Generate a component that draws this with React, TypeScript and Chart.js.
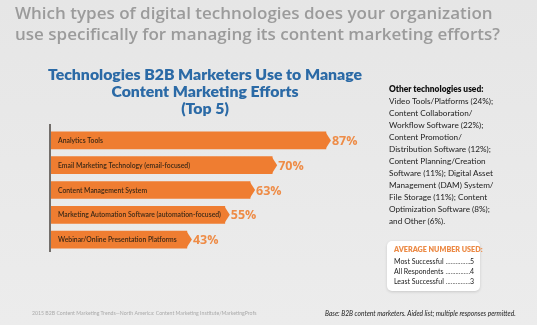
import React, { useEffect, useRef } from "react";
import { Chart, registerables } from "chart.js";

Chart.register(...registerables);

const categories = [
  "Analytics Tools",
  "Email Marketing Technology (email-focused)",
  "Content Management System",
  "Marketing Automation Software (automation-focused)",
  "Webinar/Online Presentation Platforms",
];
const values = [87, 70, 63, 55, 43];
const valueLabels = ["87%", "70%", "63%", "55%", "43%"];

const questionLines = [
  "Which types of digital technologies does your organization",
  "use specifically for managing its content marketing efforts?",
];
const titleLines = ["Technologies B2B Marketers Use to Manage", "Content Marketing Efforts", "(Top 5)"];
const otherHeader = "Other technologies used:";
const otherLines = [
  "Video Tools/Platforms (24%);",
  "Content Collaboration/",
  "Workflow Software (22%);",
  "Content Promotion/",
  "Distribution Software (12%);",
  "Content Planning/Creation",
  "Software (11%); Digital Asset",
  "Management (DAM) System/",
  "File Storage (11%); Content",
  "Optimization Software (8%);",
  "and Other (6%).",
];
const avgHeader = "AVERAGE NUMBER USED:";
const avgLabels = ["Most Successful", "All Respondents", "Least Successful"];
const avgValues = ["5", "4", "3"];
const baseNote = "Base: B2B content marketers. Aided list; multiple responses permitted.";
const sourceNote = "2015 B2B Content Marketing Trends\u2014North America: Content Marketing Institute/MarketingProfs";

const ORANGE = "#ef7d31";
const LABEL_ORANGE = "#ee8c47";

const barDecor = {
  id: "barDecor",
  afterDatasetsDraw(chart: any) {
    const ctx = chart.ctx;
    const meta = chart.getDatasetMeta(0);
    const area = chart.chartArea;
    ctx.save();
    ctx.strokeStyle = "#4a4440";
    ctx.lineWidth = 1.5;
    ctx.beginPath();
    ctx.moveTo(area.left - 1, area.top - 4);
    ctx.lineTo(area.left - 1, area.bottom);
    ctx.stroke();
    meta.data.forEach((bar: any, i: number) => {
      const h = bar.height;
      const top = bar.y - h / 2;
      const bottom = bar.y + h / 2;
      ctx.fillStyle = ORANGE;
      ctx.beginPath();
      ctx.moveTo(bar.x - 0.5, top);
      ctx.lineTo(bar.x + 5, bar.y);
      ctx.lineTo(bar.x - 0.5, bottom);
      ctx.closePath();
      ctx.fill();
      ctx.fillStyle = "#3b2816";
      ctx.font = "600 6.8px Lato";
      ctx.textBaseline = "middle";
      ctx.textAlign = "left";
      ctx.fillText(categories[i], area.left + 7, bar.y + 0.5);
      ctx.fillStyle = LABEL_ORANGE;
      ctx.font = "bold 12.5px 'Open Sans'";
      ctx.fillText(valueLabels[i], bar.x + 6, bar.y + 1);
    });
    ctx.restore();
  },
};

export default function App() {
  const ref = useRef<HTMLCanvasElement>(null);
  useEffect(() => {
    const chart = new Chart(ref.current!, {
      type: "bar",
      data: {
        labels: categories,
        datasets: [
          {
            data: values,
            backgroundColor: ORANGE,
            barThickness: 17,
            borderWidth: 0,
          },
        ],
      },
      options: {
        indexAxis: "y",
        animation: false,
        responsive: false,
        layout: { padding: { left: 51, right: 170, top: 128, bottom: 73 } },
        scales: {
          x: { display: false, min: 0, max: 100 },
          y: { display: false },
        },
        plugins: { legend: { display: false }, tooltip: { enabled: false } },
      },
      plugins: [barDecor],
    });
    return () => chart.destroy();
  }, []);

  const abs = (s: React.CSSProperties): React.CSSProperties => ({
    position: "absolute",
    whiteSpace: "nowrap",
    ...s,
  });

  return (
    <div
      style={{
        position: "fixed",
        left: 0,
        top: 0,
        width: 537,
        height: 325,
        background: "linear-gradient(#e6e6e6, #ececec)",
        overflow: "hidden",
        fontFamily: "Lato",
      }}
    >
      <canvas ref={ref} width={537} height={325} style={{ position: "absolute", left: 0, top: 0 }} />
      {questionLines.map((t, i) => (
        <div
          key={t}
          style={abs({
            left: 15,
            top: 2 + i * 21,
            fontFamily: "'Open Sans'",
            fontWeight: 600,
            fontSize: 17,
            lineHeight: "21px",
            color: "#9b9b9b",
          })}
        >
          {t}
        </div>
      ))}
      {titleLines.map((t, i) => (
        <div
          key={t}
          style={abs({
            left: 0,
            width: 410,
            textAlign: "center",
            top: 65 + i * 17,
            fontFamily: "Lato",
            fontWeight: 800,
            fontSize: 15.8,
            lineHeight: "17px",
            color: "#2b6aa6",
          })}
        >
          {t}
        </div>
      ))}
      <div style={abs({ left: 389, top: 83, fontWeight: 800, fontSize: 8.4, lineHeight: "12px", color: "#111" })}>
        {otherHeader}
      </div>
      {otherLines.map((t, i) => (
        <div key={t} style={abs({ left: 389, top: 95 + i * 12, fontSize: 8.2, lineHeight: "12px", color: "#222" })}>
          {t}
        </div>
      ))}
      <div
        style={abs({
          left: 387,
          top: 241,
          width: 93,
          height: 50,
          background: "#fff",
          borderRadius: 5,
          boxShadow: "0 1px 3px rgba(0,0,0,0.15)",
        })}
      />
      <div style={abs({ left: 394, top: 245, fontWeight: 800, fontSize: 7.2, lineHeight: "10px", color: "#ec8a45" })}>
        {avgHeader}
      </div>
      {avgLabels.map((t, i) => (
        <div key={t} style={abs({ left: 394, top: 256 + i * 10, width: 80, fontSize: 7, lineHeight: "10px", color: "#222", display: "flex" })}>
          <span>{t}</span>
          <span style={{ flex: 1, overflow: "hidden", color: "#555", padding: "0 2px" }}>{"............................................"}</span>
          <span>{avgValues[i]}</span>
        </div>
      ))}
      <div style={abs({ left: 325, top: 308, fontStyle: "italic", fontSize: 6.6, lineHeight: "10px", color: "#222" })}>
        {baseNote}
      </div>
      <div style={abs({ left: 32, top: 309, fontSize: 5.2, lineHeight: "8px", color: "#aaa" })}>{sourceNote}</div>
    </div>
  );
}
